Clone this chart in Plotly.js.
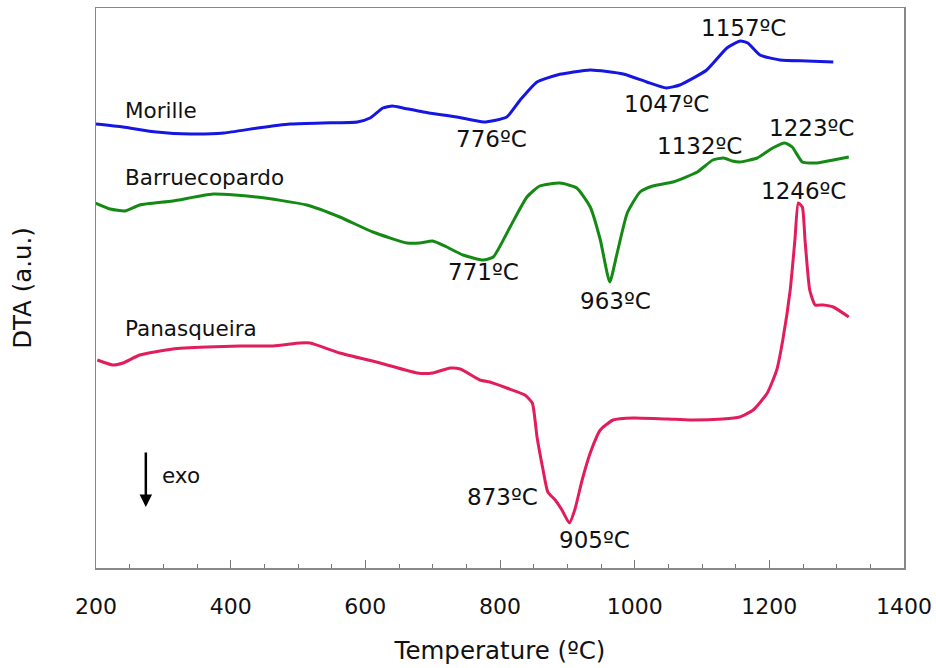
<!DOCTYPE html>
<html>
<head>
<meta charset="utf-8">
<script src="https://cdn.plot.ly/plotly-3.0.1.min.js"></script>
<style>html,body{margin:0;padding:0;background:#fff;}#chart{width:936px;height:668px;}</style>
</head>
<body>
<div id="chart"></div>
<script>
// Temperature (ºC) and DTA signal (arbitrary units, offset per sample)
var morilleT = [200,240,290,340,390,440,488,537,588,607,626,640,656,686,736,776,810,830,855,885,934,983,1018,1047,1067,1107,1137,1157,1168,1186,1216,1256,1295];
var morilleV = [444,441,436,434,435,440,444,445,446,450,460,462,460,456,451,446,451,468,486,493,498,494,486,480,483,498,520,527,525,513,508,507,506];

var barrT = [199,221,243,265,314,374,439,513,562,611,662,681,700,721,745,775,790,815,840,859,889,914,934,949,963,974,989,1008,1027,1057,1093,1116,1132,1145,1156,1182,1205,1223,1234,1249,1271,1295,1318];
var barrV = [365,359,357,363,367,374,371,363,351,336,325,325,327,321,313,308,311,341,371,382,385,380,361,328,286,315,355,376,382,386,396,408,410,407,406,410,420,425,421,406,405,408,411];

var panT = [202,225,240,265,314,365,414,463,503,518,562,622,677,700,726,741,770,785,810,837,848,855,864,871,882,892,903,911,922,934,949,968,998,1048,1082,1131,1156,1176,1197,1211,1220,1231,1238,1243,1249,1253,1260,1268,1280,1295,1318];
var panV = [208,203,205,213,219,221,222,222,225,225,215,205,195,195,200,199,188,186,180,173,165,131,98,76,68,58,45,58,88,115,138,148,150,149,148,149,151,158,175,198,228,278,328,365,361,328,278,263,263,261,251];

var seriesNames = ["Morille","Barruecopardo","Panasqueira"];
var seriesColors = ["#1616e2","#148a14","#e21d5c"];

// peak labels
var peakText = ["1157ºC","1047ºC","776ºC","1223ºC","1132ºC","1246ºC","963ºC","771ºC","873ºC","905ºC"];
var peakX = [1161,1048,787,1263,1097,1250,971,775,804,940];
var peakY = [540,464,429,440,422,377,267,296,71,28];

var xTicks = [200,400,600,800,1000,1200,1400];

var font = "DejaVu Sans, Verdana, sans-serif";

var traces = [
  {x: morilleT, y: morilleV, name: seriesNames[0]},
  {x: barrT, y: barrV, name: seriesNames[1]},
  {x: panT, y: panV, name: seriesNames[2]}
].map(function(t, i){
  t.type = "scatter"; t.mode = "lines";
  t.line = {color: seriesColors[i], width: 3, shape: "spline", smoothing: 0.5};
  t.hoverinfo = "x+y+name";
  return t;
});

var annotations = [];
for (var i = 0; i < peakText.length; i++) {
  annotations.push({x: peakX[i], y: peakY[i], xref: "x", yref: "y", text: peakText[i], showarrow: false,
    font: {family: font, size: 23, color: "#111"}, xanchor: "center", yanchor: "middle"});
}
var nameY = [458, 391, 240];
for (var j = 0; j < seriesNames.length; j++) {
  annotations.push({x: 240, y: nameY[j], xref: "x", yref: "y", text: seriesNames[j], showarrow: false,
    font: {family: font, size: 21.5, color: "#111"}, xanchor: "left", yanchor: "middle"});
}
annotations.push({x: 295, y: 93, xref: "x", yref: "y", text: "exo", showarrow: false,
  font: {family: font, size: 21.5, color: "#111"}, xanchor: "left", yanchor: "middle"});
annotations.push({x: 274, y: 61, ax: 274, ay: 117, xref: "x", yref: "y", axref: "x", ayref: "y",
  text: "", showarrow: true, arrowhead: 2, arrowsize: 1, arrowwidth: 2.5, arrowcolor: "#000"});

var layout = {
  width: 936, height: 668,
  margin: {l: 96, r: 32, t: 8, b: 100},
  paper_bgcolor: "#fff", plot_bgcolor: "#fff",
  showlegend: false,
  font: {family: font, color: "#111"},
  xaxis: {
    range: [200, 1400], tickvals: xTicks, ticktext: xTicks.map(String),
    ticks: "inside", ticklen: 8, tickwidth: 1, tickcolor: "#777",
    minor: {dtick: 50, tick0: 200, ticks: "inside", ticklen: 4, tickwidth: 1, tickcolor: "#777"},
    showline: true, linecolor: "#888", linewidth: 1.5, mirror: true,
    showgrid: false, zeroline: false,
    ticklabelstandoff: 18,
    tickfont: {family: font, size: 22, color: "#111"},
    title: {text: "Temperature (ºC)", font: {family: font, size: 24.5, color: "#111"}, standoff: 24}
  },
  yaxis: {
    range: [0, 560], showticklabels: false, ticks: "",
    showline: true, linecolor: "#888", linewidth: 1.5, mirror: true,
    showgrid: false, zeroline: false,
    title: {text: "DTA (a.u.)", font: {family: font, size: 24.5, color: "#111"}, standoff: 56}
  },
  annotations: annotations
};

Plotly.newPlot("chart", traces, layout, {displayModeBar: false, staticPlot: true});
</script>
</body>
</html>
